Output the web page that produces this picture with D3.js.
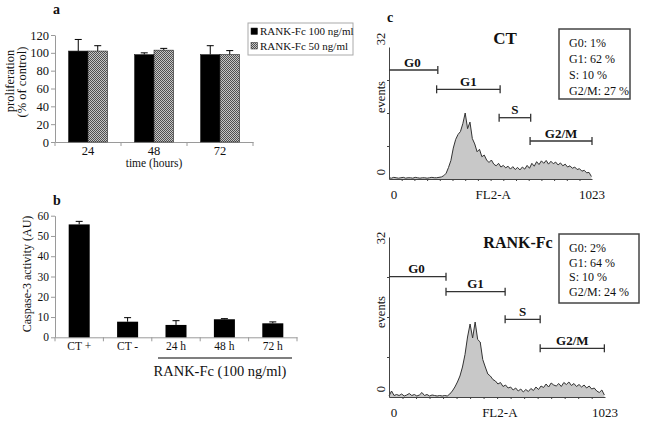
<!DOCTYPE html>
<html><head><meta charset="utf-8">
<script src="https://cdn.jsdelivr.net/npm/d3@7"></script>
<style>
body{margin:0;background:#fff}
svg{display:block}
text{font-family:"Liberation Serif","Times New Roman",serif;fill:#111}
</style>
</head><body><svg id="c" width="646" height="425"></svg>
<script>
// ---------- Panel a data ----------
const prolifTimes = ["24", "48", "72"];
const prolifSeries = ["RANK-Fc 100 ng/ml", "RANK-Fc 50 ng/ml"];
const prolif100 = [102, 98, 98];
const prolif100Err = [13, 2, 10];
const prolif50 = [102, 103, 98];
const prolif50Err = [6, 2, 4.5];
const prolifTicks = [0, 20, 40, 60, 80, 100, 120];

// ---------- Panel b data ----------
const caspCategories = ["CT +", "CT -", "24 h", "48 h", "72 h"];
const caspValues = [55.7, 7.7, 6.1, 8.9, 6.9];
const caspErr = [1.5, 2.0, 2.1, 0.3, 0.7];
const caspTicks = [0, 10, 20, 30, 40, 50, 60];

// ---------- Panel c data ----------
const gateNames = ["G0", "G1", "S", "G2/M"];
const ctGateStart = [0, 240, 555, 711];
const ctGateEnd = [246, 560, 714, 1023];
const rankGateStart = [0, 270, 550, 716];
const rankGateEnd = [270, 550, 716, 1020];
const ctStats = ["G0: 1%", "G1: 62 %", "S: 10 %", "G2/M: 27 %"];
const rankStats = ["G0: 2%", "G1: 64 %", "S: 10 %", "G2/M: 24 %"];
const histChannels = d3.range(0, 1021, 12); // 86 channels, 0..1020
const ctEvents = [
  0.3,0.2,0.4,0.3,0.2,0.3,0.4,0.2,0.3,0.3,
  0.2,0.4,0.3,0.2,0.3,0.3,0.2,0.3,0.4,0.3,
  0.3,0.4,0.5,0.8,1.4,2.8,4.5,7.5,9.6,10.8,
  11.5,13.4,16.0,12.2,13.8,9.8,8.5,6.6,7.2,5.4,
  5.8,4.6,4.0,4.6,3.6,3.2,3.8,2.9,3.3,2.7,
  3.1,2.4,3.0,2.3,2.8,2.2,2.9,2.4,3.3,2.6,
  3.8,3.1,4.2,3.5,4.4,3.8,4.5,3.6,4.3,3.7,
  4.1,3.4,3.9,3.2,3.6,2.9,3.2,2.6,2.9,2.3,
  2.5,1.9,2.1,1.5,1.6,0.6];
const rankEvents = [
  0.2,1.2,0.3,0.5,0.3,0.6,0.2,0.4,0.7,0.3,
  0.5,0.2,0.4,0.9,0.3,0.5,0.2,0.4,0.3,0.2,
  0.3,0.2,0.3,0.2,0.6,1.2,2.0,3.0,4.2,6.0,
  8.5,12.0,14.6,11.8,15.0,11.5,11.0,7.5,6.0,4.6,
  4.2,3.5,3.2,2.6,2.9,2.1,2.4,1.8,2.0,1.4,
  1.8,1.2,1.6,1.0,1.5,1.1,1.7,1.3,2.0,1.5,
  2.2,1.9,2.6,2.0,2.8,2.4,2.2,2.7,2.1,2.9,
  2.5,3.0,2.3,2.7,2.1,2.5,2.0,2.4,1.8,2.2,
  1.6,1.8,1.2,0.9,1.4,0.4];

const svg = d3.select("#c");
const defs = svg.append("defs");
const pat = defs.append("pattern").attr("id", "chk").attr("width", 2).attr("height", 2)
  .attr("patternUnits", "userSpaceOnUse");
pat.append("rect").attr("width", 2).attr("height", 2).attr("fill", "#c6c6c6");
pat.append("rect").attr("width", 1).attr("height", 1).attr("fill", "#505050");
pat.append("rect").attr("x", 1).attr("y", 1).attr("width", 1).attr("height", 1).attr("fill", "#505050");

const axisGray = "#9a9a9a";
function styleAxis(g) {
  g.selectAll(".domain").attr("stroke", axisGray);
  g.selectAll(".tick line").attr("stroke", axisGray);
  g.selectAll(".tick text").attr("fill", "#111").style("font-family", '"Liberation Serif","Times New Roman",serif');
}

// ================= Panel a =================
svg.append("text").attr("x", 53).attr("y", 14).attr("font-size", 14).attr("font-weight", "bold").text("a");
const xA = d3.scaleBand().domain(prolifTimes).range([55, 253]).paddingInner(0.41).paddingOuter(0.205);
const xA1 = d3.scaleBand().domain(prolifSeries).range([0, xA.bandwidth()]);
const yA = d3.scaleLinear().domain([0, 120]).range([142, 35]);

const gA = svg.append("g");
gA.append("g").attr("transform", "translate(55,0)")
  .call(d3.axisLeft(yA).tickValues(prolifTicks).tickSize(4).tickSizeOuter(0).tickPadding(2))
  .call(g => g.selectAll("text").attr("font-size", 12.5))
  .call(styleAxis);
gA.append("g").attr("transform", "translate(0,142)")
  .call(d3.axisBottom(xA).tickSize(0).tickSizeOuter(0).tickPadding(4))
  .call(g => g.selectAll("text").attr("font-size", 12.5))
  .call(styleAxis);
const sepA = prolifTimes.map(d => xA(d) - xA.step() * xA.paddingOuter()).concat([253]);
gA.selectAll(".sepA").data(sepA).join("line")
  .attr("x1", d => d).attr("x2", d => d).attr("y1", 142).attr("y2", 146).attr("stroke", axisGray);

const seriesA = [
  {name: prolifSeries[0], vals: prolif100, errs: prolif100Err, fill: "#000"},
  {name: prolifSeries[1], vals: prolif50, errs: prolif50Err, fill: "url(#chk)"}
];
seriesA.forEach(s => {
  const rows = prolifTimes.map((t, i) => ({t, v: s.vals[i], e: s.errs[i]}));
  gA.selectAll(null).data(rows).join("line")
    .attr("x1", d => xA(d.t) + xA1(s.name) + xA1.bandwidth() / 2)
    .attr("x2", d => xA(d.t) + xA1(s.name) + xA1.bandwidth() / 2)
    .attr("y1", d => yA(d.v)).attr("y2", d => yA(d.v + d.e)).attr("stroke", "#000").attr("stroke-width", 1);
  gA.selectAll(null).data(rows).join("line")
    .attr("x1", d => xA(d.t) + xA1(s.name) + xA1.bandwidth() / 2 - 3.5)
    .attr("x2", d => xA(d.t) + xA1(s.name) + xA1.bandwidth() / 2 + 3.5)
    .attr("y1", d => yA(d.v + d.e)).attr("y2", d => yA(d.v + d.e)).attr("stroke", "#000").attr("stroke-width", 1);
  gA.selectAll(null).data(rows).join("rect")
    .attr("x", d => xA(d.t) + xA1(s.name)).attr("width", xA1.bandwidth())
    .attr("y", d => yA(d.v)).attr("height", d => yA(0) - yA(d.v))
    .attr("fill", s.fill).attr("stroke", "#222").attr("stroke-width", 0.6);
});
gA.append("text").attr("x", xA("48") + xA.bandwidth() / 2).attr("y", 167)
  .attr("text-anchor", "middle").attr("font-size", 11.5).text("time (hours)");
gA.append("text").attr("transform", "translate(11,81) rotate(-90)")
  .attr("text-anchor", "middle").attr("dominant-baseline", "middle").attr("font-size", 12.5).text("proliferation");
gA.append("text").attr("transform", "translate(23,82) rotate(-90)")
  .attr("text-anchor", "middle").attr("dominant-baseline", "middle").attr("font-size", 12.5).text("(% of control)");
const leg = svg.append("g");
leg.append("rect").attr("x", 248).attr("y", 23).attr("width", 105).attr("height", 32)
  .attr("fill", "#fff").attr("stroke", "#aaa").attr("stroke-width", 1);
seriesA.forEach((s, i) => {
  leg.append("rect").attr("x", 251).attr("y", 28 + i * 14.5).attr("width", 6.5).attr("height", 6.5)
    .attr("fill", s.fill).attr("stroke", "#222").attr("stroke-width", 0.5);
  leg.append("text").attr("x", 260).attr("y", 35 + i * 14.5).attr("font-size", 11).text(s.name);
});

// ================= Panel b =================
svg.append("text").attr("x", 53).attr("y", 205).attr("font-size", 14).attr("font-weight", "bold").text("b");
const xB = d3.scaleBand().domain(caspCategories).range([55, 297]).paddingInner(0.566).paddingOuter(0.283);
const yB = d3.scaleLinear().domain([0, 60]).range([337.3, 215.7]);
const gB = svg.append("g");
gB.append("g").attr("transform", "translate(55,0)")
  .call(d3.axisLeft(yB).tickValues(caspTicks).tickSize(4).tickSizeOuter(0).tickPadding(2))
  .call(g => g.selectAll("text").attr("font-size", 11.5))
  .call(styleAxis);
gB.append("g").attr("transform", "translate(0,337.3)")
  .call(d3.axisBottom(xB).tickSize(0).tickSizeOuter(0).tickPadding(5))
  .call(g => g.selectAll("text").attr("font-size", 11.5))
  .call(styleAxis);
const sepB = caspCategories.map(d => xB(d) - xB.step() * xB.paddingOuter()).concat([297]);
gB.selectAll(".sepB").data(sepB).join("line")
  .attr("x1", d => d).attr("x2", d => d).attr("y1", 337.3).attr("y2", 341.3).attr("stroke", axisGray);
const rowsB = caspCategories.map((c, i) => ({c, v: caspValues[i], e: caspErr[i]}));
gB.selectAll(".eb").data(rowsB).join("line")
  .attr("x1", d => xB(d.c) + xB.bandwidth() / 2).attr("x2", d => xB(d.c) + xB.bandwidth() / 2)
  .attr("y1", d => yB(d.v)).attr("y2", d => yB(d.v + d.e)).attr("stroke", "#000");
gB.selectAll(".ec").data(rowsB).join("line")
  .attr("x1", d => xB(d.c) + xB.bandwidth() / 2 - 3.5).attr("x2", d => xB(d.c) + xB.bandwidth() / 2 + 3.5)
  .attr("y1", d => yB(d.v + d.e)).attr("y2", d => yB(d.v + d.e)).attr("stroke", "#000");
gB.selectAll(".bar").data(rowsB).join("rect")
  .attr("x", d => xB(d.c)).attr("width", xB.bandwidth())
  .attr("y", d => yB(d.v)).attr("height", d => yB(0) - yB(d.v)).attr("fill", "#000");
gB.append("line").attr("x1", 158).attr("x2", 292).attr("y1", 358).attr("y2", 358)
  .attr("stroke", "#000").attr("stroke-width", 1.2);
gB.append("text").attr("x", 220).attr("y", 376).attr("text-anchor", "middle").attr("font-size", 14.5)
  .text("RANK-Fc (100 ng/ml)");
gB.append("text").attr("transform", "translate(28,274) rotate(-90)")
  .attr("text-anchor", "middle").attr("dominant-baseline", "middle").attr("font-size", 12).text("Caspase-3 activity (AU)");

// ================= Panel c =================
svg.append("text").attr("x", 387).attr("y", 22).attr("font-size", 14).attr("font-weight", "bold").text("c");

function drawHist(cfg) {
  const g = svg.append("g");
  const x = d3.scaleLinear().domain([0, 1023]).range([389, cfg.xEnd]);
  const y = d3.scaleLinear().domain([0, 32]).range([cfg.y0, cfg.y1]);
  const pts = histChannels.map((c, i) => ({c, v: cfg.events[i]}));
  g.append("path").datum(pts)
    .attr("d", d3.area().x(d => x(d.c)).y0(y(0)).y1(d => y(d.v)))
    .attr("fill", "#c8c8c8");
  g.append("path").datum(pts)
    .attr("d", d3.line().x(d => x(d.c)).y(d => y(d.v)))
    .attr("fill", "none").attr("stroke", "#333").attr("stroke-width", 1);
  g.append("g").attr("transform", `translate(389,0)`)
    .call(d3.axisLeft(y).tickValues([8, 16, 24]).tickSize(2).tickSizeOuter(0).tickFormat(""))
    .call(a => a.selectAll(".domain,.tick line").attr("stroke", "#444"));
  g.append("g").attr("transform", `translate(0,${cfg.y0})`)
    .call(d3.axisBottom(x).tickValues(d3.range(64, 1023, 64)).tickSize(2).tickSizeOuter(0).tickFormat(""))
    .call(a => a.selectAll(".domain,.tick line").attr("stroke", "#444"));
  g.append("text").attr("transform", `translate(382,${cfg.lab32}) rotate(-90)`)
    .attr("text-anchor", "middle").attr("dominant-baseline", "middle").attr("font-size", 12.5).text("32");
  g.append("text").attr("transform", `translate(382,${cfg.lab0}) rotate(-90)`)
    .attr("text-anchor", "middle").attr("dominant-baseline", "middle").attr("font-size", 12.5).text("0");
  g.append("text").attr("transform", `translate(382,${cfg.labEv}) rotate(-90)`)
    .attr("text-anchor", "middle").attr("dominant-baseline", "middle").attr("font-size", 12.5).text("events");
  g.append("text").attr("x", x(0) + 5).attr("y", cfg.xLabY).attr("text-anchor", "middle").attr("font-size", 13).text("0");
  g.append("text").attr("x", x(525)).attr("y", cfg.xLabY).attr("text-anchor", "middle").attr("font-size", 13).text("FL2-A");
  g.append("text").attr("x", x(1023)).attr("y", cfg.xLabY).attr("text-anchor", "middle").attr("font-size", 13).text("1023");
  g.append("text").attr("x", cfg.titleX).attr("y", cfg.titleY).attr("text-anchor", "middle")
    .attr("font-size", cfg.titleSize).attr("font-weight", "bold").text(cfg.title);
  gateNames.forEach((n, i) => {
    const gy = cfg.gateY[i];
    const xs = x(cfg.gStart[i]), xe = x(cfg.gEnd[i]);
    g.append("line").attr("x1", xs).attr("x2", xe).attr("y1", gy).attr("y2", gy).attr("stroke", "#333").attr("stroke-width", 1.3);
    [xs, xe].forEach(xx => {
      if (i === 0 && xx === xs) return;
      g.append("line").attr("x1", xx).attr("x2", xx).attr("y1", gy - 4).attr("y2", gy + 4).attr("stroke", "#333").attr("stroke-width", 1.3);
    });
    g.append("text").attr("x", (xs + xe) / 2 + (i === 0 ? -1 : 0)).attr("y", gy - 3.5).attr("text-anchor", "middle")
      .attr("font-size", 13).attr("font-weight", "bold").text(n);
  });
  g.append("rect").attr("x", cfg.box[0]).attr("y", cfg.box[1]).attr("width", cfg.box[2]).attr("height", cfg.box[3])
    .attr("fill", "#fff").attr("stroke", "#444").attr("stroke-width", 1.5);
  cfg.stats.forEach((s, i) => {
    g.append("text").attr("x", 569).attr("y", cfg.statY0 + i * cfg.statDy).attr("font-size", 12).text(s);
  });
}

drawHist({
  events: ctEvents, xEnd: 592, y0: 179, y1: 47,
  lab32: 39, lab0: 172, labEv: 97, xLabY: 199,
  title: "CT", titleX: 505, titleY: 44, titleSize: 17,
  gStart: ctGateStart, gEnd: ctGateEnd, gateY: [70, 89.3, 117.7, 141],
  box: [559, 29, 71, 70], stats: ctStats, statY0: 47, statDy: 16
});
drawHist({
  events: rankEvents, xEnd: 605, y0: 397, y1: 237,
  lab32: 238, lab0: 389, labEv: 312, xLabY: 417,
  title: "RANK-Fc", titleX: 518, titleY: 248, titleSize: 16,
  gStart: rankGateStart, gEnd: rankGateEnd, gateY: [276.7, 291.7, 319.3, 348.3],
  box: [559, 234, 80, 69], stats: rankStats, statY0: 252, statDy: 14.7
});
</script></body></html>
